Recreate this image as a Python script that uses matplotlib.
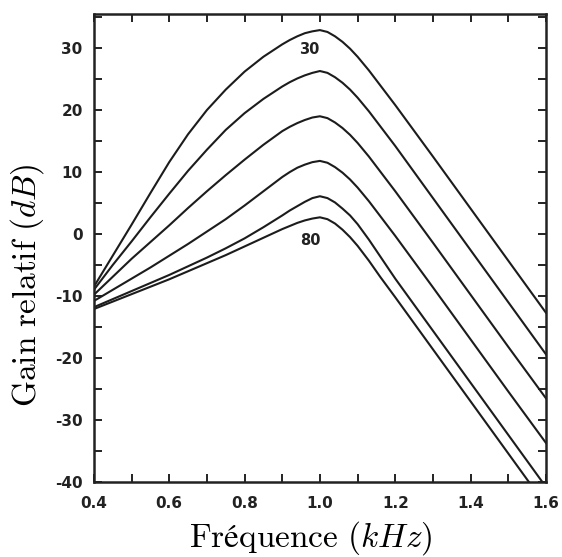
import numpy as np
import matplotlib.pyplot as plt
from matplotlib.ticker import MultipleLocator

plt.rcParams['mathtext.fontset'] = 'cm'

# frequency points (kHz)
freq = [0.40, 0.45, 0.50, 0.55, 0.60, 0.65, 0.70, 0.75, 0.80, 0.85, 0.90,
        0.92, 0.94, 0.96, 0.98, 1.00, 1.02, 1.04, 1.06, 1.08, 1.10,
        1.13, 1.16, 1.20, 1.30, 1.40, 1.50, 1.60]

# relative gain (dB), one curve per level, top (30) to bottom (80)
gain_30 = [-8.5, -3.5, 1.5, 6.6, 11.6, 16.1, 20.0, 23.3, 26.2, 28.6, 30.6,
           31.3, 31.9, 32.4, 32.7, 32.9, 32.6, 31.9, 31.0, 29.9, 28.6,
           26.4, 24.0, 20.8, 12.5, 4.1, -4.3, -12.7]
gain_2 = [-9.0, -5.0, -1.2, 2.7, 6.5, 10.2, 13.6, 16.8, 19.5, 21.8, 23.8,
          24.5, 25.1, 25.6, 26.0, 26.3, 26.0, 25.3, 24.4, 23.3, 22.0,
          19.8, 17.4, 14.2, 5.8, -2.6, -11.0, -19.4]
gain_3 = [-9.8, -6.9, -4.0, -1.3, 1.4, 4.2, 6.9, 9.5, 12.0, 14.4, 16.6,
          17.3, 17.9, 18.4, 18.8, 19.0, 18.7, 18.0, 17.1, 16.0, 14.7,
          12.5, 10.1, 6.9, -1.4, -9.8, -18.2, -26.5]
gain_4 = [-10.8, -9.0, -7.2, -5.4, -3.5, -1.6, 0.4, 2.4, 4.6, 6.9, 9.2,
          10.0, 10.7, 11.2, 11.6, 11.8, 11.5, 10.8, 9.9, 8.8, 7.5,
          5.3, 2.9, -0.3, -8.6, -17.0, -25.4, -33.7]
gain_5 = [-11.8, -10.5, -9.2, -7.9, -6.6, -5.2, -3.8, -2.3, -0.7, 1.1, 3.0,
          3.8, 4.5, 5.2, 5.8, 6.1, 5.8, 5.1, 4.1, 3.0, 1.6,
          -0.9, -3.6, -7.2, -15.6, -24.0, -32.4, -40.8]
gain_80 = [-12.1, -10.9, -9.7, -8.5, -7.3, -6.0, -4.7, -3.4, -2.0, -0.6, 0.8,
           1.3, 1.8, 2.2, 2.5, 2.7, 2.4, 1.7, 0.7, -0.5, -1.9,
           -4.3, -6.9, -10.2, -18.6, -27.0, -35.4, -43.8]

curves = [gain_30, gain_2, gain_3, gain_4, gain_5, gain_80]

fig = plt.figure(figsize=(5.62, 5.57), dpi=100)
ax = fig.add_axes([0.167, 0.1346, 0.8045, 0.8403])

for g in curves:
    ax.plot(freq, g, color='#1c1c1c', lw=1.5)

ax.text(0.973, 29.7, '30', ha='center', va='center', fontsize=10.5,
        fontweight='bold', color='#222222')
ax.text(0.975, -1.0, '80', ha='center', va='center', fontsize=10.5,
        fontweight='bold', color='#222222')

ax.set_xlim(0.4, 1.6)
ax.set_ylim(-40, 35.5)

ax.xaxis.set_major_locator(MultipleLocator(0.2))
ax.xaxis.set_minor_locator(MultipleLocator(0.1))
ax.yaxis.set_major_locator(MultipleLocator(10))
ax.yaxis.set_minor_locator(MultipleLocator(5))
ax.tick_params(which='both', direction='in', top=True, right=True,
               length=6, width=1.4, color='#222222')
ax.tick_params(axis='x', pad=10)
ax.tick_params(axis='y', pad=8)
ax.xaxis.set_major_formatter(plt.FuncFormatter(lambda v, p: f'{v:.1f}'))
ax.yaxis.set_major_formatter(plt.FuncFormatter(lambda v, p: f'{v:.0f}'))
for lab in ax.get_xticklabels() + ax.get_yticklabels():
    lab.set_fontweight('bold')
    lab.set_fontsize(11)
    lab.set_color('#222222')

for s in ax.spines.values():
    s.set_linewidth(1.8)
    s.set_color('#222222')

ax.set_xlabel(r'$\mathrm{Fréquence}\ (kHz)$', fontsize=24)
ax.set_ylabel(r'$\mathrm{Gain\ relatif}\ (dB)$', fontsize=24)
ax.xaxis.set_label_coords(0.48, -0.08)
ax.yaxis.set_label_coords(-0.105, 0.42)

fig.savefig('out.png', dpi=100)
